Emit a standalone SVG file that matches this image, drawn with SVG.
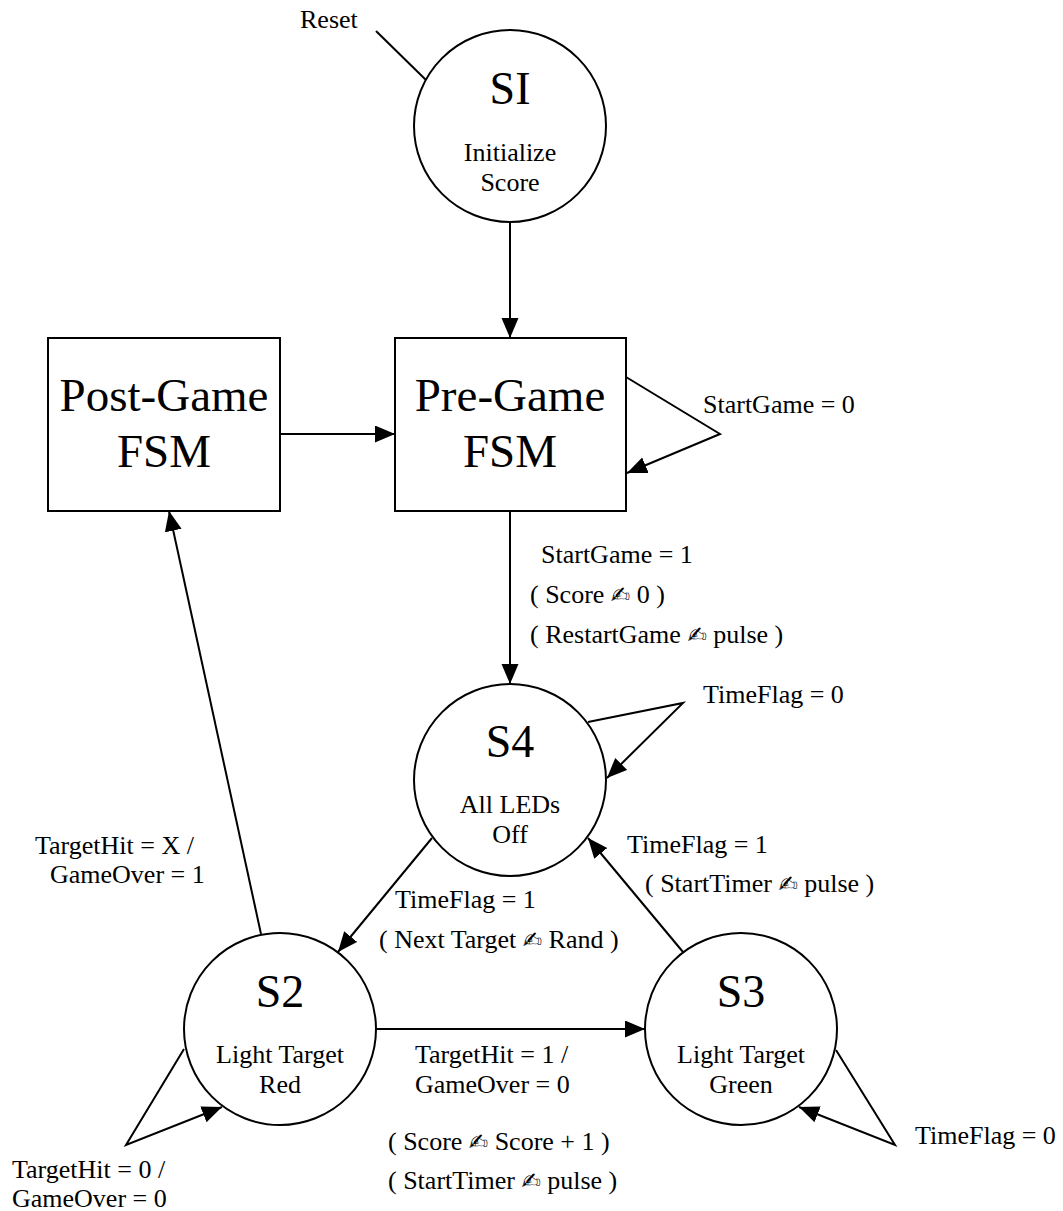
<svg xmlns="http://www.w3.org/2000/svg" width="1063" height="1211" viewBox="0 0 1063 1211">
<style>
.st{fill:#fff;stroke:#000;stroke-width:2}
.ln{fill:none;stroke:#000;stroke-width:2}
.t{font-family:"Liberation Serif","Times New Roman",serif;font-size:26px;fill:#000}
.c{text-anchor:middle}
.big{font-family:"Liberation Serif","Times New Roman",serif;font-size:46px;fill:#000;text-anchor:middle}
.box{font-family:"Liberation Serif","Times New Roman",serif;font-size:47px;fill:#000;text-anchor:middle}
.h{font-family:"DejaVu Sans",sans-serif;font-size:23px}
</style>
<defs>
<marker id="ar" markerUnits="userSpaceOnUse" markerWidth="22" markerHeight="20" refX="20" refY="8.5" orient="auto">
<path d="M0,0 L20,8.5 L0,17 z" fill="#000"/>
</marker>
</defs>
<rect width="1063" height="1211" fill="#fff"/>
<g id="connectors">
<line class="ln" x1="376" y1="31" x2="426" y2="80"/>
<line class="ln" x1="510" y1="222" x2="510" y2="338" marker-end="url(#ar)"/>
<line class="ln" x1="280" y1="434" x2="395" y2="434" marker-end="url(#ar)"/>
<polyline class="ln" points="626,377 720,434 627,473" marker-end="url(#ar)"/>
<line class="ln" x1="510" y1="511" x2="510" y2="684" marker-end="url(#ar)"/>
<polyline class="ln" points="588,722 683,703 607,778" marker-end="url(#ar)"/>
<line class="ln" x1="432" y1="838" x2="338" y2="952" marker-end="url(#ar)"/>
<line class="ln" x1="683" y1="952" x2="588" y2="838" marker-end="url(#ar)"/>
<line class="ln" x1="376" y1="1029" x2="645" y2="1029" marker-end="url(#ar)"/>
<polyline class="ln" points="184,1049 126,1145 222,1107" marker-end="url(#ar)"/>
<polyline class="ln" points="836,1050 895,1145 799,1107" marker-end="url(#ar)"/>
<line class="ln" x1="261" y1="934" x2="169" y2="511" marker-end="url(#ar)"/>
</g>
<g id="labels">
<text class="t" x="300" y="28">Reset</text>
<text class="t" x="703" y="413">StartGame = 0</text>
<text class="t" x="541" y="563">StartGame = 1</text>
<text class="t" x="530" y="603">( Score <tspan class="h">✍</tspan> 0 )</text>
<text class="t" x="530" y="643">( RestartGame <tspan class="h">✍</tspan> pulse )</text>
<text class="t" x="703" y="703">TimeFlag = 0</text>
<text class="t" x="627" y="853">TimeFlag = 1</text>
<text class="t" x="645" y="892">( StartTimer <tspan class="h">✍</tspan> pulse )</text>
<text class="t" x="395" y="908">TimeFlag = 1</text>
<text class="t" x="379" y="948">( Next Target <tspan class="h">✍</tspan> Rand )</text>
<text class="t" x="35" y="854">TargetHit = X /</text>
<text class="t" x="50" y="883">GameOver = 1</text>
<text class="t" x="415" y="1063">TargetHit = 1 /</text>
<text class="t" x="415" y="1093">GameOver = 0</text>
<text class="t" x="388" y="1150">( Score <tspan class="h">✍</tspan> Score + 1 )</text>
<text class="t" x="388" y="1189">( StartTimer <tspan class="h">✍</tspan> pulse )</text>
<text class="t" x="12" y="1178">TargetHit = 0 /</text>
<text class="t" x="12" y="1207">GameOver = 0</text>
<text class="t" x="915" y="1144">TimeFlag = 0</text>
</g>
<g id="SI">
<circle class="st" cx="510" cy="126" r="96"/>
<text class="big" x="510" y="104">SI</text>
<text class="t c" x="510" y="161">Initialize</text>
<text class="t c" x="510" y="191">Score</text>
</g>
<g id="PreGame">
<rect class="st" x="395" y="338" width="231" height="173"/>
<text class="box" x="510" y="411">Pre-Game</text>
<text class="box" x="510" y="467">FSM</text>
</g>
<g id="PostGame">
<rect class="st" x="48" y="338" width="232" height="173"/>
<text class="box" x="164" y="411">Post-Game</text>
<text class="box" x="164" y="467">FSM</text>
</g>
<g id="S4">
<circle class="st" cx="510" cy="780" r="96"/>
<text class="big" x="510" y="757">S4</text>
<text class="t c" x="510" y="813">All LEDs</text>
<text class="t c" x="510" y="843">Off</text>
</g>
<g id="S2">
<circle class="st" cx="280" cy="1029" r="96"/>
<text class="big" x="280" y="1007">S2</text>
<text class="t c" x="280" y="1063">Light Target</text>
<text class="t c" x="280" y="1093">Red</text>
</g>
<g id="S3">
<circle class="st" cx="741" cy="1029" r="96"/>
<text class="big" x="741" y="1007">S3</text>
<text class="t c" x="741" y="1063">Light Target</text>
<text class="t c" x="741" y="1093">Green</text>
</g>
</svg>
